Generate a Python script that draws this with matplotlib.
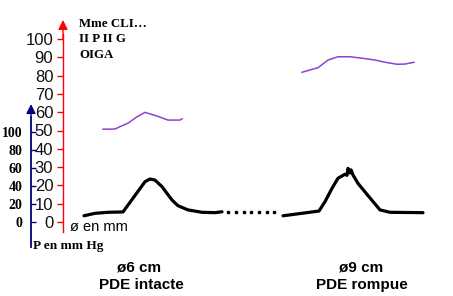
import matplotlib
matplotlib.use("Agg")
import matplotlib.pyplot as plt

# ---- data (x = position along the recording, y = diametre in mm, red scale)
purple1_x = [40, 52, 57, 65, 74, 82, 85, 94, 105, 117, 119]
purple1_y = [50.7, 50.8, 52.1, 54.0, 57.5, 59.9, 59.4, 57.9, 55.7, 55.7, 56.4]

purple2_x = [239, 247, 255, 265, 275, 287, 299, 312, 322, 334, 342, 351]
purple2_y = [81.8, 83.1, 84.3, 88.5, 90.3, 90.3, 89.5, 88.5, 87.3, 86.2, 86.3, 87.3]

black1_x = [21, 32, 45, 60, 70, 82, 87, 92, 99, 109, 115, 125, 139, 152, 159]
black1_y = [3.4, 4.75, 5.3, 5.5, 13.0, 22.0, 23.5, 22.9, 19.3, 12.0, 8.9, 6.6, 5.3, 5.1, 5.6]

gap_x = [165, 173, 181, 188, 196, 204, 211]
gap_y = [5.2, 5.2, 5.2, 5.2, 5.2, 5.2, 5.2]

black2_x = [220, 234, 256, 262, 269, 275, 282, 284, 285, 287, 288, 290, 295, 304, 317, 327, 360]
black2_y = [3.4, 4.4, 6.0, 11.1, 18.4, 23.9, 26.1, 25.5, 29.3, 26.8, 28.5, 25.7, 21.1, 15.1, 6.6, 5.3, 5.1]

red_ticks = [0, 10, 20, 30, 40, 50, 60, 70, 80, 90, 100]
blue_ticks = [0, 20, 40, 60, 80, 100]
header = ["Mme CLI\u2026", "II P II G", "OIGA"]

W, H = 453, 296
fig = plt.figure(figsize=(W / 100, H / 100), dpi=100)
fig.patch.set_facecolor("white")

# ---- red axis (diametre)
ax = fig.add_axes([63 / W, 74 / H, 390 / W, 183 / H])
ax.set_xlim(0, 390)
ax.set_ylim(0, 100)
ax.patch.set_visible(False)
for s in ["top", "right", "bottom"]:
    ax.spines[s].set_visible(False)
ax.spines["left"].set_color("red")
ax.spines["left"].set_linewidth(1)
ax.spines["left"].set_bounds(-5.3, 103)
ax.set_xticks([])
ax.set_yticks(red_ticks)
ax.tick_params(axis="y", colors="red", length=4.5, width=1, pad=2.5)
for lab in ax.get_yticklabels():
    lab.set_color("#111111")
    lab.set_fontfamily(["Liberation Sans Narrow", "Liberation Sans"])
    lab.set_fontsize(12)
ax.annotate("", xy=(0, 110.4), xytext=(0, 100), xycoords=("axes fraction", "data"),
            arrowprops=dict(arrowstyle="-|>", color="red", lw=1, mutation_scale=14,
                            shrinkA=0, shrinkB=0), annotation_clip=False)

ax.plot(purple1_x, purple1_y, color="#9040d0", lw=1.1, clip_on=False)
ax.plot(purple2_x, purple2_y, color="#9040d0", lw=1.1, clip_on=False)
ax.plot(black1_x, black1_y, color="black", lw=2.3, solid_capstyle="round", clip_on=False)
ax.plot(black2_x, black2_y, color="black", lw=2.3, solid_capstyle="round", clip_on=False)
ax.plot(gap_x, gap_y, linestyle="none", marker="s", markersize=1.5, color="black", clip_on=False)

ax.text(7, -2.9, "\u00f8 en mm", fontsize=10.5, family="Liberation Sans", va="center", ha="left")

# ---- blue axis (pressure)
bax = fig.add_axes([31 / W, 74 / H, 5 / W, 183 / H])
bax.set_ylim(0, 203.3)
bax.patch.set_visible(False)
for s in ["top", "right", "bottom"]:
    bax.spines[s].set_visible(False)
bax.spines["left"].set_color("#000080")
bax.spines["left"].set_linewidth(1.3)
bax.spines["left"].set_bounds(-27.8, 117)
bax.set_xticks([])
bax.set_yticks(blue_ticks)
bax.tick_params(axis="y", direction="in", colors="#000080", length=3.5, width=1, pad=6)
for lab in bax.get_yticklabels():
    lab.set_color("black")
    lab.set_fontfamily("Liberation Serif")
    lab.set_fontweight("bold")
    lab.set_fontsize(10)
bax.annotate("", xy=(0, 131), xytext=(0, 117), xycoords=("axes fraction", "data"),
             arrowprops=dict(arrowstyle="-|>", color="#000080", lw=1, mutation_scale=14,
                             shrinkA=0, shrinkB=0), annotation_clip=False)

fig.text(33 / W, 1 - 246 / H, "P en mm Hg", fontsize=9.5, family="Liberation Serif",
         fontweight="bold", va="center", ha="left")

# ---- header
for i, line in enumerate(header):
    fig.text(79 / W, 1 - (24 + 15.5 * i) / H, line, fontsize=9.3, family="Liberation Serif",
             fontweight="bold", va="center", ha="left")

# ---- bottom labels
fig.text(139 / W, 1 - 268 / H, "\u00f86 cm", fontsize=11, family="Liberation Sans",
         fontweight="bold", ha="center", va="center")
fig.text(141 / W, 1 - 285 / H, "PDE intacte", fontsize=11, family="Liberation Sans",
         fontweight="bold", ha="center", va="center")
fig.text(361 / W, 1 - 267 / H, "\u00f89 cm", fontsize=11, family="Liberation Sans",
         fontweight="bold", ha="center", va="center")
fig.text(362 / W, 1 - 285 / H, "PDE rompue", fontsize=11, family="Liberation Sans",
         fontweight="bold", ha="center", va="center")

fig.savefig("out.png", dpi=100)
